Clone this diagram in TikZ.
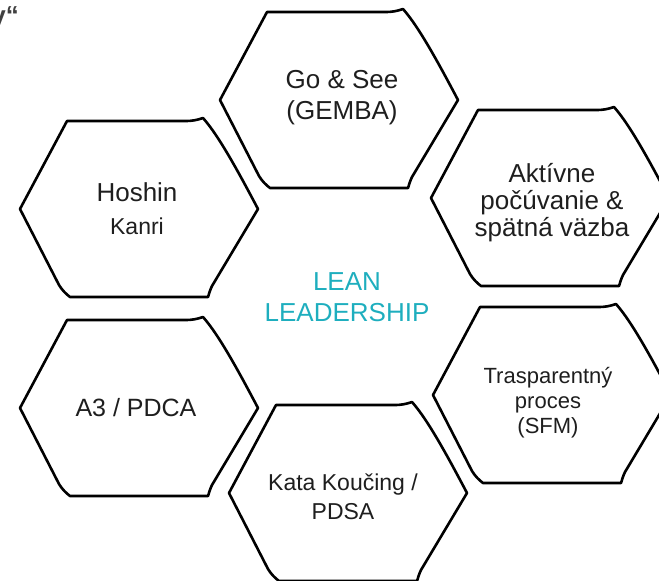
\documentclass[tikz,border=0pt]{standalone}
\usepackage{fontspec}
\setmainfont{Liberation Sans}
\definecolor{leanteal}{RGB}{30,174,190}
\definecolor{txtgray}{RGB}{30,30,30}
\tikzset{
  hexline/.style={draw=black, line width=2.6pt, line join=round},
  hexa/.pic={\path[hexline] (-72,-88) -- (46,-88) .. controls (54,-88) and (58,-89) .. (64,-91)
     .. controls (80,-73) and (100,-36) .. (119,0)
     -- (73,77) .. controls (71,81) and (70,85) .. (69,88)
     -- (-69,88) .. controls (-73,85) and (-77,81) .. (-80,76)
     -- (-119,0) -- cycle;},
  lbl/.style={align=center, text=txtgray, inner sep=0pt},
}
\begin{document}
\begin{tikzpicture}[x=1pt,y=-1pt]
\useasboundingbox (0,0) rectangle (659,581);
% hexagons
\pic at (339,100) {hexa};
\pic at (139,209) {hexa};
\pic at (550,198) {hexa};
\pic at (139,408) {hexa};
\pic at (552,395) {hexa};
\pic at (348,493) {hexa};
% labels
\node[lbl, font=\fontsize{26}{31}\selectfont] (gemba) at (342,98) {Go \& See\\(GEMBA)};
\node[lbl, font=\fontsize{26}{33}\selectfont] (hoshin) at (137,209) {Hoshin\\{\fontsize{23}{33}\selectfont Kanri}};
\node[lbl, font=\fontsize{26}{27}\selectfont] (aktiv) at (552,203) {Aktívne\\počúvanie \&\\spätná väzba};
\node[lbl, font=\fontsize{25}{30}\selectfont] (a3) at (136,408) {A3 / PDCA};
\node[lbl, font=\fontsize{22}{25}\selectfont] (trasp) at (548,403) {Trasparentný\\proces\\(SFM)};
\node[lbl, font=\fontsize{23}{29}\selectfont] (kata) at (343,497) {Kata Koučing /\\PDSA};
\node[lbl, text=leanteal, font=\fontsize{26}{31}\selectfont] (lean) at (347,297) {LEAN\\LEADERSHIP};
\node[anchor=base east, inner sep=0pt, text=black!75, font=\fontsize{26}{28}\selectfont\bfseries] (frag) at (19,24) {y“};
\end{tikzpicture}
\end{document}
